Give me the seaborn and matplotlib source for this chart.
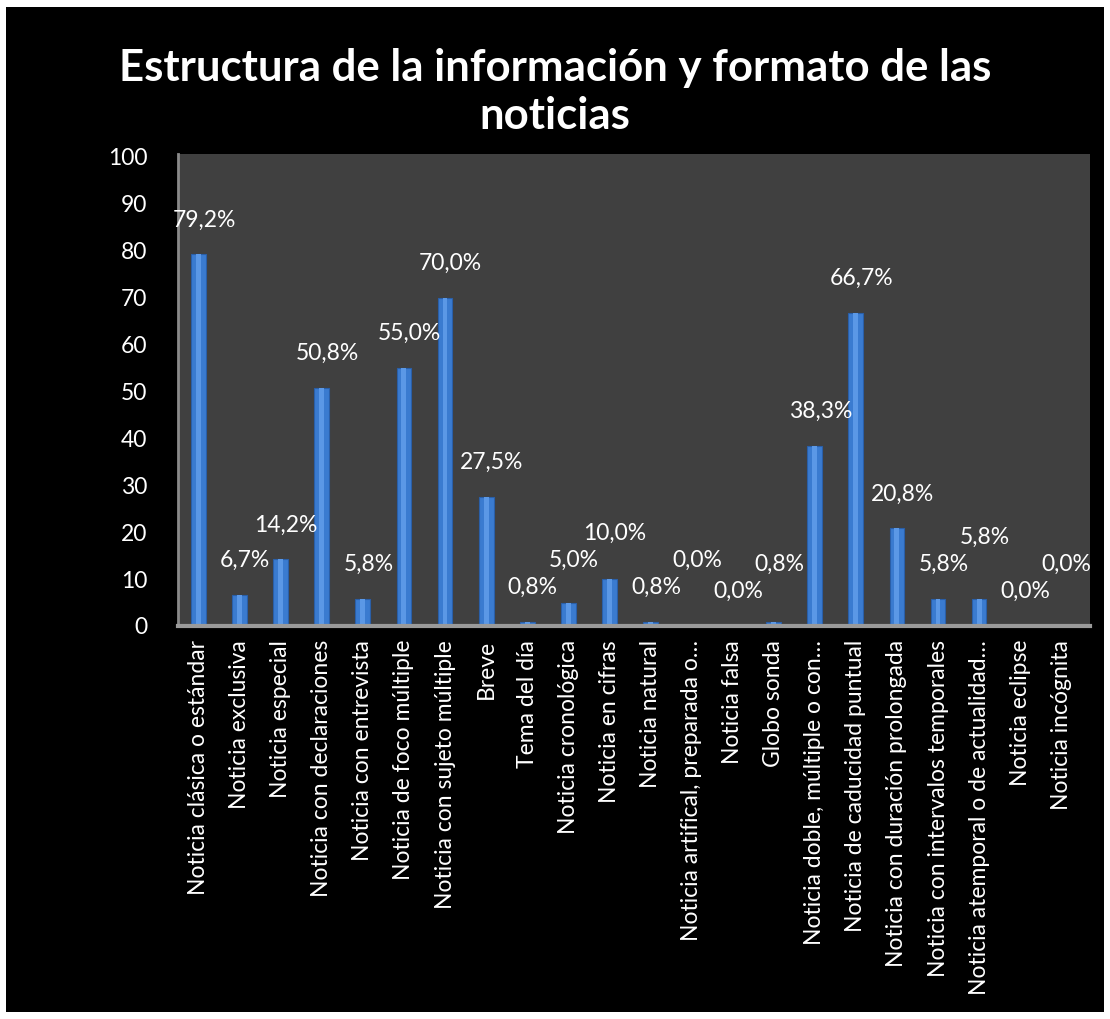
import matplotlib
matplotlib.use("Agg")
import matplotlib.pyplot as plt
import seaborn as sns
from matplotlib.patches import Rectangle

# Data
categories = [
    "Noticia clásica o estándar", "Noticia exclusiva", "Noticia especial",
    "Noticia con declaraciones", "Noticia con entrevista", "Noticia de foco múltiple",
    "Noticia con sujeto múltiple", "Breve", "Tema del día", "Noticia cronológica",
    "Noticia en cifras", "Noticia natural", "Noticia artifical, preparada o…",
    "Noticia falsa", "Globo sonda", "Noticia doble, múltiple o con…",
    "Noticia de caducidad puntual", "Noticia con duración prolongada",
    "Noticia con intervalos temporales", "Noticia atemporal o de actualidad…",
    "Noticia eclipse", "Noticia incógnita",
]
values = [79.2, 6.7, 14.2, 50.8, 5.8, 55.0, 70.0, 27.5, 0.8, 5.0, 10.0, 0.8,
          0.0, 0.0, 0.8, 38.3, 66.7, 20.8, 5.8, 5.8, 0.0, 0.0]
yticks = [0, 10, 20, 30, 40, 50, 60, 70, 80, 90, 100]

sns.set_theme(style="dark")
plt.rcParams["font.family"] = ["Lato", "DejaVu Sans"]

W, H = 1110, 1019
fig = plt.figure(figsize=(W / 100, H / 100), dpi=100, facecolor="white")
# black chart area inside a thin white frame
fig.patches.append(Rectangle((6 / W, 7 / H), (1104 - 6) / W, (1012 - 7) / H,
                             transform=fig.transFigure, facecolor="black",
                             edgecolor="none", zorder=-10))

ax = fig.add_axes([178 / W, (H - 626) / H, 912 / W, (626 - 154) / H])
ax.set_zorder(1)
ax.set_facecolor("#404040")

sns.barplot(x=categories, y=values, color="#3a7bd0", width=0.36,
            saturation=1, edgecolor="#2a5fa8", linewidth=0.8, ax=ax)
# lighter stripe to suggest the cylinder shading
sns.barplot(x=categories, y=values, color="#5b98e6", width=0.12,
            saturation=1, linewidth=0, ax=ax)

ax.set_ylim(0, 100.6)
ax.set_xlim(-0.5, 21.7)

# value labels, staggered upward when they would collide with the previous one
ppu = ax.transData.transform((0, 1))[1] - ax.transData.transform((0, 0))[1]
prev = None
for i, v in enumerate(values):
    y = v * ppu + 24
    if prev is not None and abs(y - prev) < 24:
        y = prev + 27
    prev = y
    ax.annotate(f"{v:.1f}".replace(".", ",") + "%", (i, v),
                xytext=(4, (y - v * ppu) * 0.72), textcoords="offset points",
                ha="center", va="bottom", color="white", fontsize=16.5)

ax.set_yticks(yticks)
ax.set_yticklabels([str(t) for t in yticks], color="white", fontsize=16.5)
ax.set_xticks(range(len(categories)))
ax.set_xticklabels(categories, rotation=90, color="white", fontsize=16.5)
ax.tick_params(axis="y", pad=22, length=0)
ax.tick_params(axis="x", pad=10, length=0)
ax.set_xlabel("")
ax.set_ylabel("")
ax.grid(False)

for side in ["top", "right"]:
    ax.spines[side].set_visible(False)
ax.spines["left"].set_color("#8a8a8a")
ax.spines["left"].set_linewidth(2)
ax.spines["bottom"].set_color("#9a9a9a")
ax.spines["bottom"].set_linewidth(3)

fig.text(0.5, 1 - 92 / H, "Estructura de la información y formato de las\nnoticias",
         ha="center", va="center", color="white", fontsize=31.5,
         fontweight="bold", linespacing=1.25, zorder=2)

fig.savefig("out.png", dpi=100, facecolor=fig.get_facecolor())
